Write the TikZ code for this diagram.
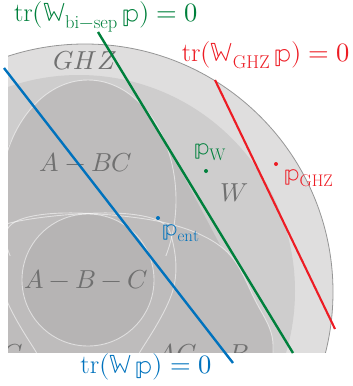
\documentclass[tikz,border=0pt]{standalone}
\usepackage{unicode-math}
\definecolor{wgreen}{RGB}{0,128,60}
\definecolor{wblue}{RGB}{0,114,189}
\definecolor{wred}{RGB}{237,28,36}
\definecolor{ghzfill}{RGB}{223,222,222}
\definecolor{ghzedge}{RGB}{150,150,150}
\definecolor{wfill}{RGB}{206,205,205}
\definecolor{bfill}{RGB}{190,188,188}
\definecolor{sfill}{RGB}{182,180,180}
\definecolor{lab}{RGB}{112,112,112}
\tikzset{
  setlabel/.style={text=lab, font=\fontsize{26}{30}\selectfont, inner sep=0pt},
  eqlabel/.style={font=\fontsize{26.5}{30}\selectfont, inner sep=0pt},
  rholabel/.style={font=\fontsize{24}{28}\selectfont, inner sep=0pt},
  witness/.style={line width=2.4pt},
  outline/.style={draw=white, draw opacity=0.55, line width=0.9pt},
  statedot/.style={circle, inner sep=0pt, minimum size=4pt}
}
\def\cabpath{plot[smooth cycle, tension=0.6] coordinates {(10,223) (100,213) (157,220) (173,243) (173,290) (143,347) (105,395) (10,415) (-80,400) (-97,345) (-79,300) (-49,250)}}
\def\bacpath{plot[smooth cycle, tension=0.6] coordinates {(166,223) (76,213) (19,220) (3,243) (3,290) (33,347) (71,395) (166,415) (256,400) (273,345) (255,300) (225,250)}}
\begin{document}
\begin{tikzpicture}[x=1pt,y=-1pt]
\useasboundingbox (0,0) rectangle (353,386);
\begin{scope}
  \clip (8,0) rectangle (353,352);
  % GHZ set
  \fill[ghzfill, draw=ghzedge, line width=0.8pt] (85,292) circle (248pt);
  % W set
  \fill[wfill] (79,291) circle (216pt);
  % biseparable convex hull
  \fill[bfill] (19,126) -- (157,126) -- (273,345) -- (200,430) -- (-24,430) -- (-97,345) -- cycle;
  \fill[bfill] (88,200) ellipse [x radius=88pt, y radius=120pt];
  \fill[bfill] \cabpath;
  \fill[bfill] \bacpath;
  % fully separable
  \fill[sfill] (88,280) circle (66pt);
  % outlines
  \begin{scope}
    \clip (0,0) rectangle (353,255);
    \draw[outline] (88,200) ellipse [x radius=88pt, y radius=120pt];
  \end{scope}
  \draw[outline] \cabpath;
  \draw[outline] \bacpath;
  \draw[outline] (88,280) circle (66pt);
  % set labels
  \node[setlabel] (lghz) at (85,61) {$GHZ$};
  \node[setlabel] (labc) at (86,162) {$A-BC$};
  \node[setlabel] (lw) at (234,193) {$W$};
  \node[setlabel] (lsep) at (86,279) {$A-B-C$};
  \node[setlabel] (lbac) at (203,353) {$AC-B$};
  \node[setlabel] (lcab) at (-23,353) {$AB-C$};
\end{scope}
% witness lines
\coordinate (b1) at (4,68);
\coordinate (b2) at (233,363);
\coordinate (g1) at (98,32);
\coordinate (g2) at (293,353);
\coordinate (r1) at (215,80);
\coordinate (r2) at (335,329);
\draw[witness, wblue] (b1) -- (b2);
\draw[witness, wgreen] (g1) -- (g2);
\draw[witness, wred, line width=2.1pt] (r1) -- (r2);
% states
\node[statedot, fill=wgreen] (dw) at (206,171) {};
\node[statedot, fill=wred] (dghz) at (276,164) {};
\node[statedot, fill=wblue] (dent) at (158,218) {};
\node[rholabel, text=wgreen] (rw) at (210,152) {$\mathbb{p}_{\mathrm{W}}$};
\node[rholabel, text=wred] (rghz) at (309,178) {$\mathbb{p}_{\mathrm{GHZ}}$};
\node[rholabel, text=wblue] (rent) at (181,233) {$\mathbb{p}_{\mathrm{ent}}$};
% equations
\node[eqlabel, text=wgreen] (eg) at (106,17) {$\mathrm{tr}(\mathbb{W}_{\mathrm{bi-sep}}\,\mathbb{p})=0$};
\node[eqlabel, text=wred] (er) at (266,55) {$\mathrm{tr}(\mathbb{W}_{\mathrm{GHZ}}\,\mathbb{p})=0$};
\node[eqlabel, text=wblue] (eb) at (146,367) {$\mathrm{tr}(\mathbb{W}\,\mathbb{p})=0$};
\end{tikzpicture}
\end{document}
